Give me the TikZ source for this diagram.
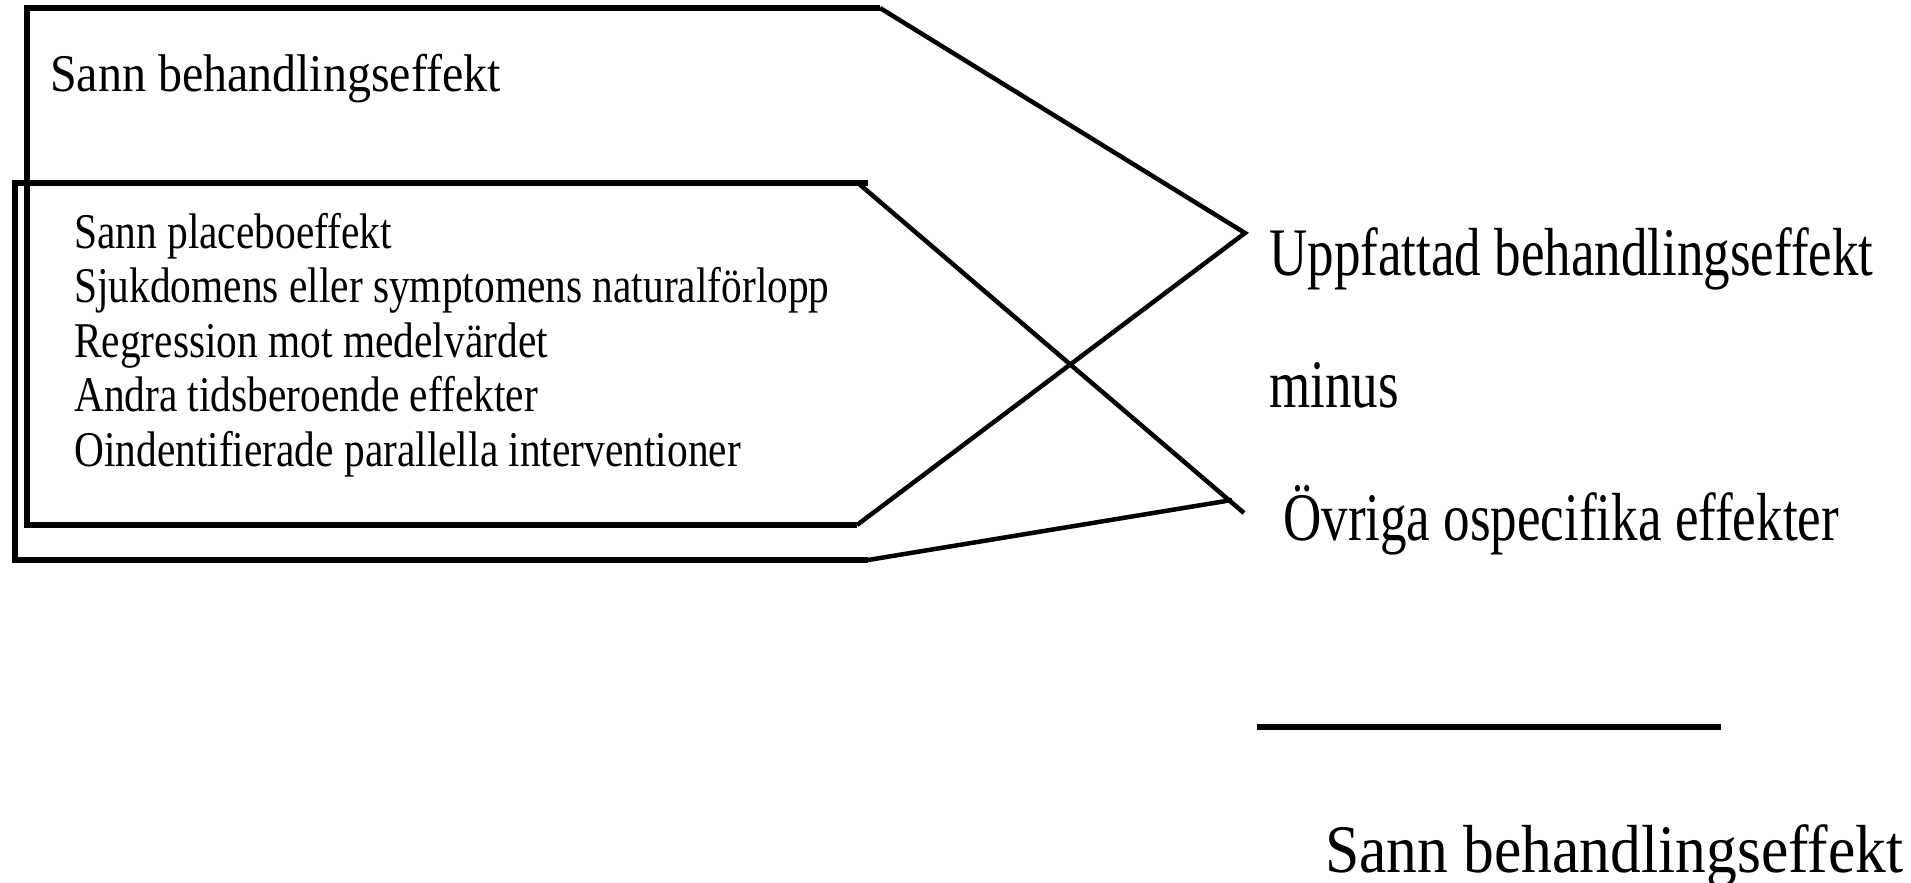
\documentclass[tikz,border=0pt]{standalone}
\usepackage{fontspec}
\setmainfont{Liberation Serif}
\newfontfamily\topf[FakeStretch=0.905]{Liberation Serif}
\newfontfamily\listf[FakeStretch=0.828]{Liberation Serif}
\newfontfamily\rightf[FakeStretch=0.78]{Liberation Serif}
\newfontfamily\botf[FakeStretch=0.905]{Liberation Serif}
\begin{document}
\begin{tikzpicture}[x=1pt,y=-1pt,
  ln/.style={line width=5.5pt,black},
  dg/.style={line width=4.5pt,black},
  txt/.style={inner sep=0pt,anchor=base west},
  toptxt/.style={txt,font=\topf\fontsize{53}{60}\selectfont},
  listtxt/.style={txt,font=\listf\fontsize{50}{55}\selectfont},
  righttxt/.style={txt,font=\rightf\fontsize{68}{75}\selectfont},
  bottxt/.style={txt,font=\botf\fontsize{68}{75}\selectfont}]
\useasboundingbox[fill=white] (0,0) rectangle (1911,883);
% shape A: true treatment effect
\coordinate (A1) at (27,8);
\coordinate (A2) at (880,8);
\coordinate (A3) at (1245,233);
\coordinate (A4) at (857,525);
\coordinate (A5) at (27,525);
% shape B: unspecific effects
\coordinate (B1) at (15,183);
\coordinate (B2) at (868,183);
\coordinate (B2a) at (858,183);
\coordinate (B3) at (1244,513);
\coordinate (B4) at (1232,500);
\coordinate (B5) at (868,560);
\coordinate (B6) at (15,560);
\draw[ln] (A4) -- (A5) -- (A1) -- (A2);
\draw[dg] (A2) -- (A3) -- (A4);
\draw[ln] (B5) -- (B6) -- (B1) -- (B2);
\draw[dg] (B2a) -- (B3);
\draw[dg] (B4) -- (B5);
% texts
\node[toptxt] (sann) at (50,92) {Sann behandlingseffekt};
\node[listtxt] (l1) at (74,248) {Sann placeboeffekt};
\node[listtxt] (l2) at (74,302.5) {Sjukdomens eller symptomens naturalförlopp};
\node[listtxt] (l3) at (74,357) {Regression mot medelvärdet};
\node[listtxt] (l4) at (74,411.5) {Andra tidsberoende effekter};
\node[listtxt] (l5) at (74,466) {Oindentifierade parallella interventioner};
\node[righttxt] (upp) at (1269,275) {Uppfattad behandlingseffekt};
\node[righttxt] (minus) at (1269,407) {minus};
\node[righttxt] (ovr) at (1283,540) {Övriga ospecifika effekter};
\coordinate (r1) at (1257,727);
\coordinate (r2) at (1721,727);
\draw[ln] (r1) -- (r2);
\node[bottxt] (res) at (1325,872) {Sann behandlingseffekt};
\end{tikzpicture}
\end{document}
